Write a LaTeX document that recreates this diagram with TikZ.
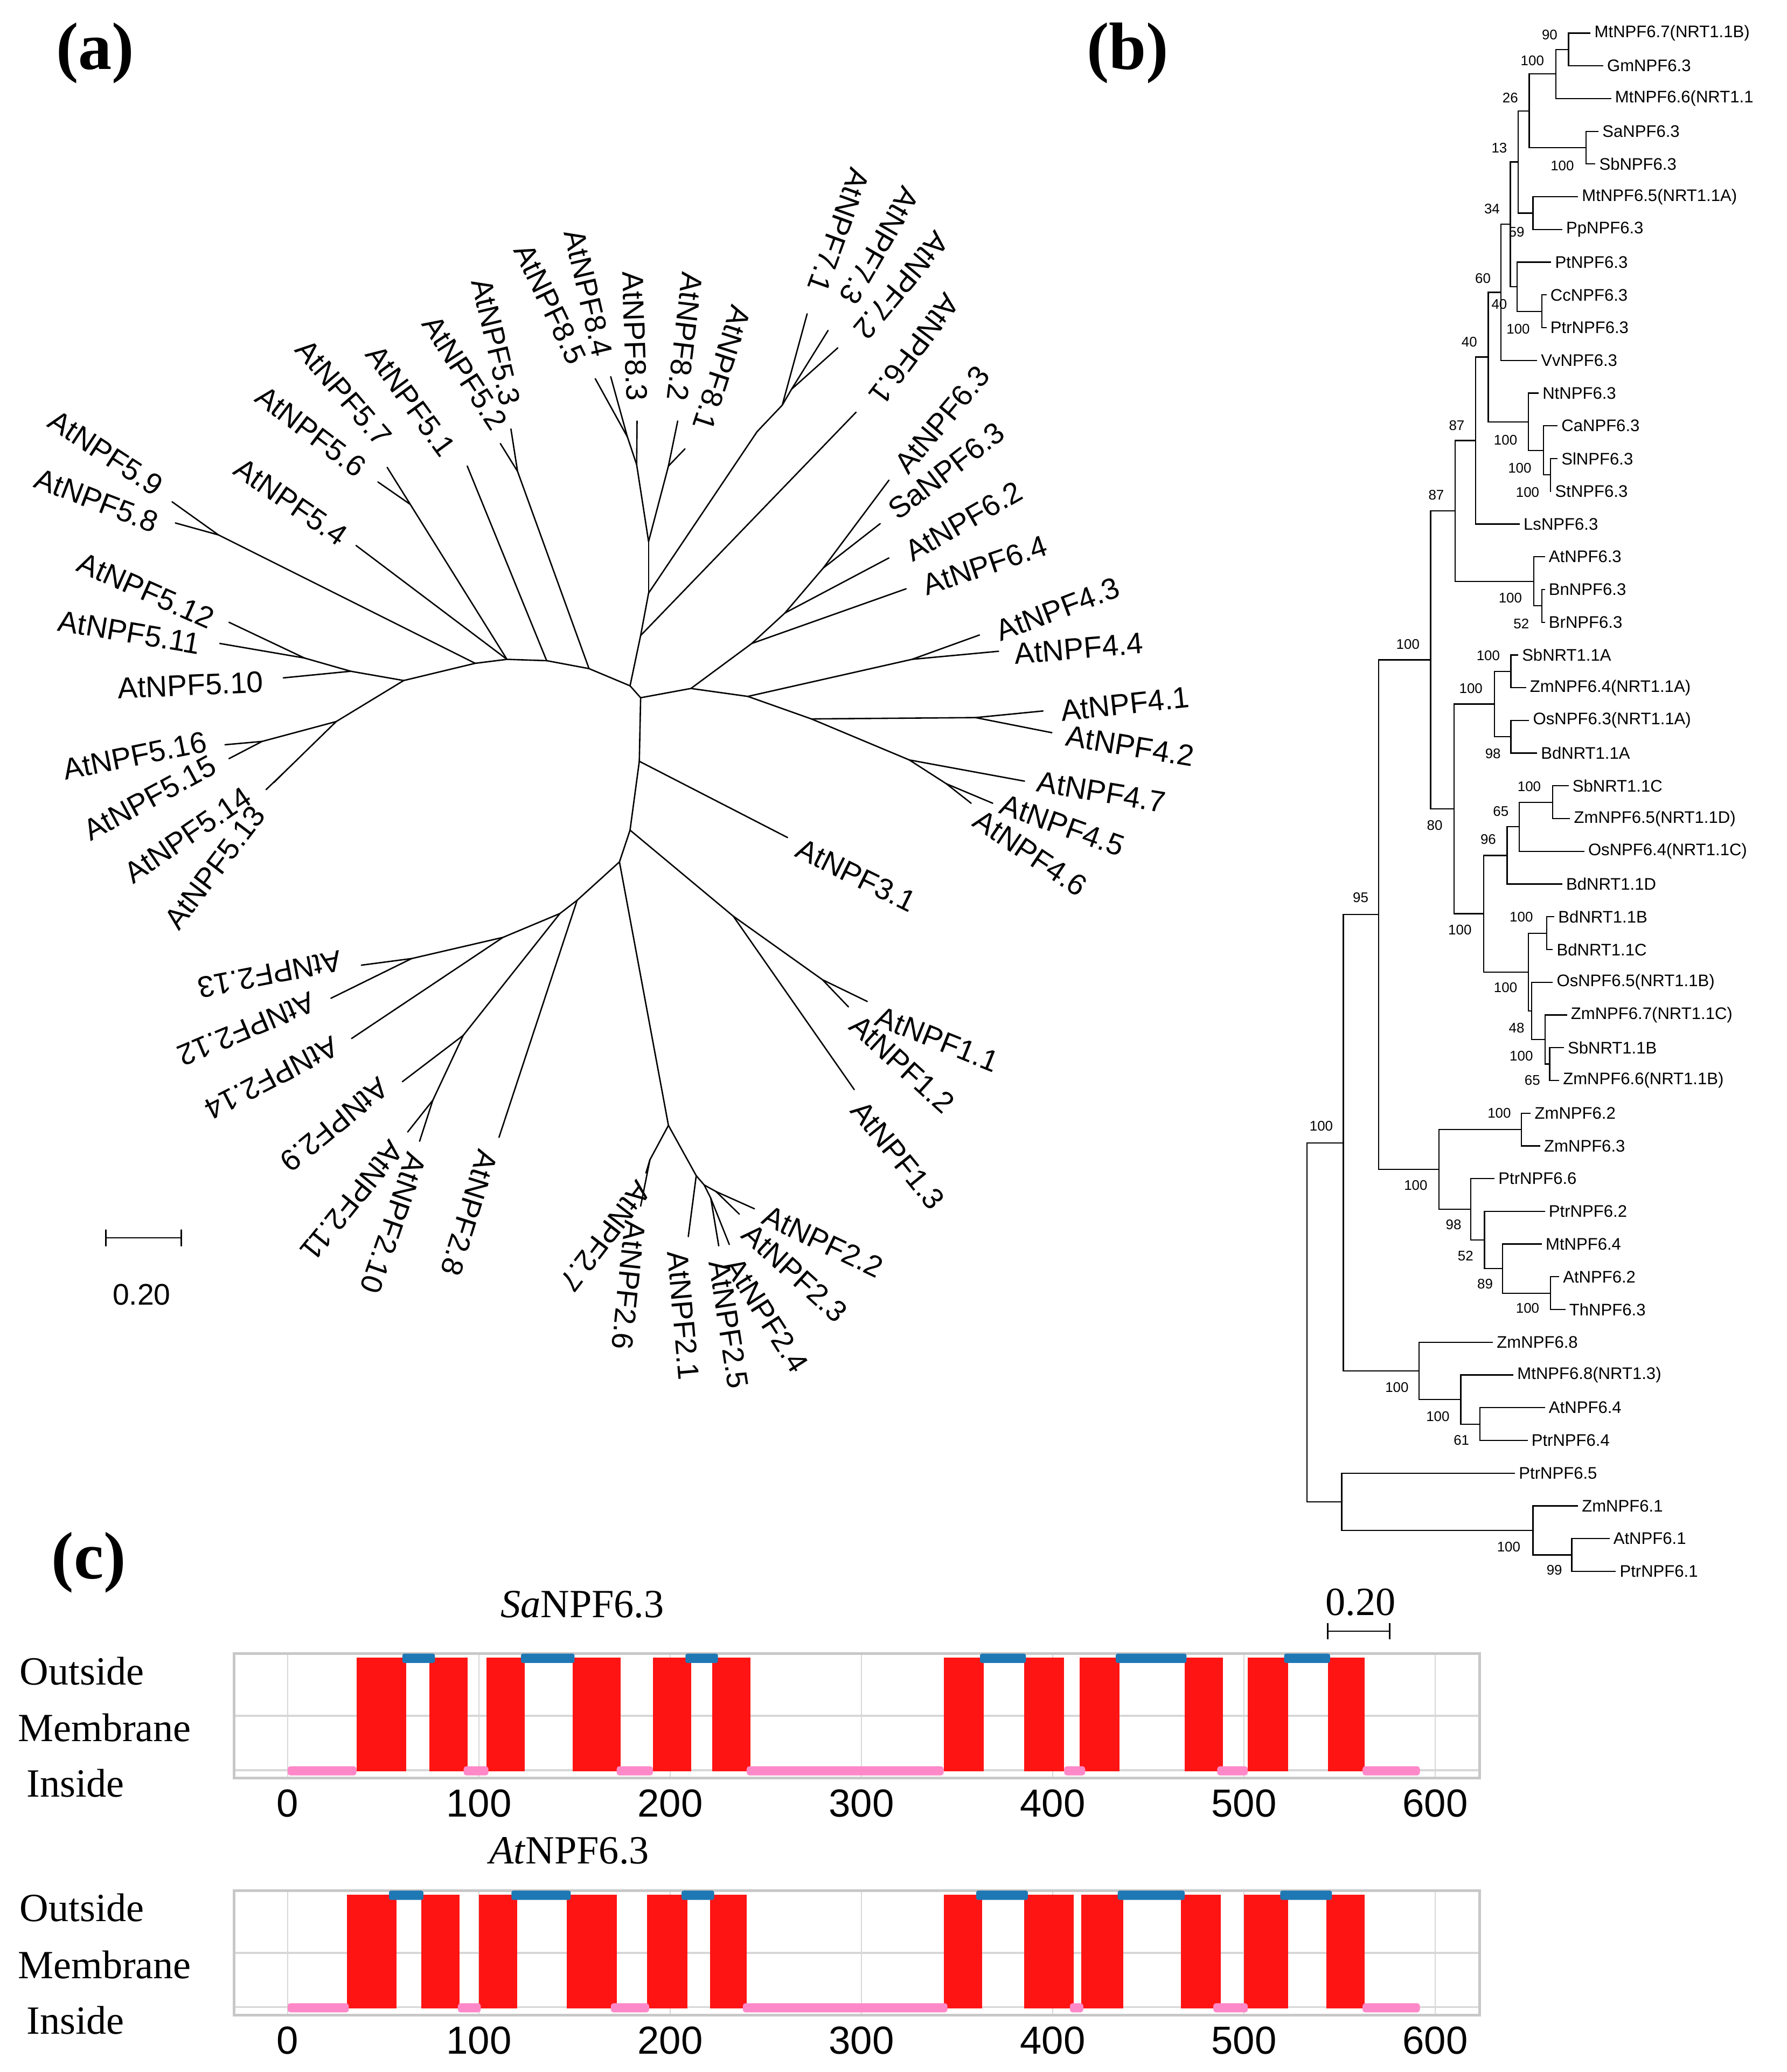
\documentclass[tikz,border=0pt]{standalone}
\usepackage{fontspec}
\setmainfont{Liberation Serif}
\newfontfamily\lsans{Liberation Sans}
\usetikzlibrary{calc}
\definecolor{tmred}{RGB}{255,20,20}
\definecolor{tmblue}{RGB}{30,120,180}
\definecolor{tmpink}{RGB}{255,136,200}
\definecolor{gridg}{RGB}{215,215,215}
\definecolor{frameg}{RGB}{200,200,200}
\def\bx#1{976.8+0.238*#1}
\def\zy#1{0.3894*#1}
\def\zz#1{590.2+0.3894*#1}
\def\cx#1{217.3+1.445*#1}
\newcommand\lv[3]{\coordinate (b#1) at ({\bx{#2}},{25+24.72*#1}); \node[bl] (bt#1) at (b#1) {#3};}
\newcommand\tn[4]{\path let \p1=(#3),\p2=(#4) in ($({\bx{#2}},0)+(0pt,{0.5*(\y1+\y2)})$) coordinate (#1); \draw[bt] (#3) -| (#1); \draw[bt] (#4) -| (#1);}
\begin{document}
\begin{tikzpicture}[x=0.5mm,y=-0.5mm,
  tl/.style={line width=1.5pt,line cap=round},
  la/.style={font=\lsans\fontsize{32}{32}\selectfont,inner sep=0pt},
  bt/.style={line width=1.3pt},
  bl/.style={font=\lsans\fontsize{18}{18}\selectfont,anchor=west,inner sep=0pt,xshift=4pt},
  bs/.style={font=\lsans\fontsize{15}{15}\selectfont,inner sep=0pt},
  pl/.style={font=\bfseries\fontsize{72}{72}\selectfont,inner sep=0pt},
  sl/.style={font=\fontsize{43}{43}\selectfont,inner sep=0pt},
  tk/.style={font=\lsans\fontsize{42}{42}\selectfont,inner sep=0pt},
  grid/.style={draw=gridg,line width=1.2pt},
  frame/.style={draw=frameg,line width=3pt}]
\useasboundingbox (0,0) rectangle (1350,1565);
% ---------- panel labels
\node[pl] (pa) at (72,40) {(a)};
\node[pl] (pb) at (852,40) {(b)};
\node[pl] (pc) at (67,1180) {(c)};
% ---------- (a) coordinates
\foreach \n/\p in {T/{476,518},R/{484,527},R2/{483,575},R3/{476,627},B/{468,651},
 a1/{445,505},a2/{413,499},a3/{383,498},a4/{359,501},a5/{305,514},a6/{265,507},n5c/{254,545},
 n59/{165,404},p59/{130,379},p58/{132.5,395},p54/{269,412},n57/{310,381},p57/{292.5,353},p56/{285.5,364},
 p51/{353,352},n53/{391,356},p53/{386,324},p52/{378,335},p510/{214,512},n511/{230,497},p511/{166,486},p512/{173,470},
 n5d/{198,560},p516/{170,562.5},p515/{173,573},n5e/{214,584},p514/{201,596.4},p513/{207,591},
 t1/{484,480},t2/{490,448},t3/{490,409},p61/{646.7,311.4},m7/{572,326},m7a/{591,306},p71/{609.8,237},m7b/{598,294},p73/{625.6,249.6},p72/{633,262.7},
 m8a/{481,351},p83/{481.3,318},m8b/{474,330},p84/{461.4,284.5},p85/{449.7,286},m8c/{505,352},p82/{512,318},p81/{517.5,339},
 r1/{522,520},m6a/{568,486},p64/{684.6,444.7},m6b/{593,463},p62/{671.6,421.4},m6c/{622,429},p63/{671.6,362.7},pSa/{665,395.5},
 m4/{565,526},m4a/{689,498},p43/{740,479.6},p44/{754.4,491.9},m4b/{613,543},m4c/{737,542},p41/{788,537},p42/{794.7,553.4},
 m4d/{687,574},p47/{774,590},m4e/{715,592},p45/{750,606.7},p46/{733.7,606.7},p31/{595,632.6},
 m1/{554,692},p13/{645.4,823},m1b/{621.4,740},p11/{655.2,756.4},p12/{641,760.5},
 nL0/{436,680},p28/{377,859},nLa/{423,690},nL1/{380,708},nL2/{311,724},p213/{273,729},p212/{250,754},p214/{265.6,784.4},
 nL3/{350,782},p29/{304,817},nL4/{327,831},p211/{308,855},p210/{317,862},
 m2/{505,850},m2a/{491,876},p27/{488,886},p26/{484,911},m2b/{526,888},p21/{520,934},m2c/{532,895},m2d/{537,905},
 p25/{543,941},p24/{551,940},m2e/{541,900},p23/{558.5,917},p22/{570,913}}
 {\coordinate (\n) at (\p);}
\foreach \u/\v in {T/R,R/R2,R2/R3,R3/B,T/a1,a1/a2,a2/a3,a3/a4,a4/a5,a5/a6,a5/n5c,a4/n59,n59/p59,n59/p58,
 a3/p54,a3/n57,n57/p57,n57/p56,a2/p51,a1/n53,n53/p53,n53/p52,a6/p510,a6/n511,n511/p511,n511/p512,
 n5c/n5d,n5d/p516,n5d/p515,n5c/n5e,n5e/p514,n5e/p513,
 T/t1,t1/t2,t2/t3,t1/p61,t2/m7,m7/m7a,m7a/p71,m7a/m7b,m7b/p73,m7b/p72,t3/m8a,m8a/p83,m8a/m8b,m8b/p84,m8b/p85,t3/m8c,m8c/p82,m8c/p81,
 R/r1,r1/m6a,m6a/p64,m6a/m6b,m6b/p62,m6b/m6c,m6c/p63,m6c/pSa,r1/m4,m4/m4a,m4a/p43,m4a/p44,m4/m4b,m4b/m4c,m4c/p41,m4c/p42,
 m4b/m4d,m4d/p47,m4d/m4e,m4e/p45,m4e/p46,R2/p31,R3/m1,m1/p13,m1/m1b,m1b/p11,m1b/p12,
 B/nL0,nL0/p28,nL0/nLa,nLa/nL1,nL1/nL2,nL2/p213,nL2/p212,nL1/p214,nLa/nL3,nL3/p29,nL3/nL4,nL4/p211,nL4/p210,
 B/m2,m2/m2a,m2a/p27,m2a/p26,m2/m2b,m2b/p21,m2b/m2c,m2c/m2d,m2d/p25,m2d/p24,m2c/m2e,m2e/p23,m2e/p22}
 {\draw[tl] (\u) -- (\v);}
% labels, east anchored
\foreach \n/\p/\r/\t in {l59/{120.8,368.8}/-33.2/AtNPF5.9, l58/{118.5,395.4}/-21/AtNPF5.8, l54/{259.8,407}/-34.7/AtNPF5.4,
 l56/{273.8,355.5}/-37.3/AtNPF5.6, l57/{291.3,333.9}/-49.4/AtNPF5.7, l51/{339.2,342.2}/-53.8/AtNPF5.1,
 l52/{377.8,322.3}/-56.9/AtNPF5.2, l53/{386,305.7}/-76.6/AtNPF5.3, l512/{160.5,468.5}/-24/AtNPF5.12,
 l511/{151.2,486.8}/-9.6/AtNPF5.11, l510/{199,515}/2.6/AtNPF5.10, l516/{155.8,559.8}/11.4/AtNPF5.16,
 l515/{161.7,576.5}/28.4/AtNPF5.15, l514/{187.4,599.7}/34.3/AtNPF5.14, l513/{195.6,611.3}/52.8/AtNPF5.13,
 l85/{436.9,273.6}/-64.4/AtNPF8.5, l84/{455.6,269}/-76.9/AtNPF8.4, l83/{481.3,302.7}/-88/AtNPF8.3,
 l82/{511.6,302.7}/-96.8/AtNPF8.2, l81/{530.3,324.5}/-108/AtNPF8.1, l71/{616.8,219.8}/-110/AtNPF7.1,
 l73/{640,228}/-120/AtNPF7.3, l72/{649.5,253}/-130/AtNPF7.2, l61/{661.2,302.7}/-127/AtNPF6.1}
 {\node[la,anchor=east,rotate=\r] (\n) at (\p) {\t};}
% labels, west anchored
\foreach \n/\p/\r/\t in {l63/{680.3,354.5}/50/AtNPF6.3, lSa/{673.7,387.3}/37.7/SaNPF6.3, l62/{685.7,418.1}/30/AtNPF6.2,
 l64/{697.7,442.7}/18.7/AtNPF6.4, l43/{753.3,477.5}/20.8/AtNPF4.3, l44/{766.4,494}/4.8/AtNPF4.4,
 l41/{801.3,537}/6.1/AtNPF4.1, l42/{805.6,555.5}/-9.4/AtNPF4.2, l47/{783.8,590.3}/-9.4/AtNPF4.7,
 l45/{756.6,606.7}/-20/AtNPF4.5, l46/{738,617}/-34/AtNPF4.6, l31/{602.9,639.5}/-26.2/AtNPF3.1,
 l11/{662.8,766.7}/-21.9/AtNPF1.1, l12/{645.4,770.8}/-42.4/AtNPF1.2, l13/{647.6,834.3}/-51/AtNPF1.3,
 l22/{577.7,916.7}/-25.5/AtNPF2.2, l23/{564.3,928.5}/-42.3/AtNPF2.3, l24/{552.8,952}/-57.4/AtNPF2.4,
 l25/{543.2,952}/-81.2/AtNPF2.5, l21/{512,945}/-85/AtNPF2.1, l26/{480,922}/-96/AtNPF2.6,
 l27/{487,895}/-127.5/AtNPF2.7, l28/{369,869.4}/-107.3/AtNPF2.8, l210/{315.4,871.8}/-109.3/AtNPF2.10,
 l211/{300,864.7}/-129/AtNPF2.11, l29/{290.5,818.6}/-140.7/AtNPF2.9, l214/{254.1,789.1}/-152.8/AtNPF2.14,
 l212/{236.9,756}/-157.2/AtNPF2.12, l213/{257.9,725.3}/-169/AtNPF2.13}
 {\node[la,anchor=west,rotate=\r] (\n) at (\p) {\t};}
% scale bar (a)
\coordinate (sa1) at (80,935); \coordinate (sa2) at (137,935);
\draw[tl] (sa1) -- (sa2); \draw[tl] (80,929) -- (80,941); \draw[tl] (137,929) -- (137,941);
\node[la] (sal) at (107,978) {0.20};
% ---------- (b)
\lv{0}{945}{MtNPF6.7(NRT1.1B)} \lv{1}{985}{GmNPF6.3} \lv{2}{1010}{MtNPF6.6(NRT1.1}
\lv{3}{970}{SaNPF6.3} \lv{4}{960}{SbNPF6.3} \lv{5}{905}{MtNPF6.5(NRT1.1A)} \lv{6}{855}{PpNPF6.3}
\lv{7}{820}{PtNPF6.3} \lv{8}{805}{CcNPF6.3} \lv{9}{805}{PtrNPF6.3} \lv{10}{775}{VvNPF6.3}
\lv{11}{780}{NtNPF6.3} \lv{12}{840}{CaNPF6.3} \lv{13}{840}{SlNPF6.3} \lv{14}{820}{StNPF6.3}
\lv{15}{720}{LsNPF6.3} \lv{16}{800}{AtNPF6.3} \lv{17}{800}{BnNPF6.3} \lv{18}{800}{BrNPF6.3}
\lv{19}{715}{SbNRT1.1A} \lv{20}{740}{ZmNPF6.4(NRT1.1A)} \lv{21}{750}{OsNPF6.3(NRT1.1A)} \lv{22}{775}{BdNRT1.1A}
\lv{23}{875}{SbNRT1.1C} \lv{24}{880}{ZmNPF6.5(NRT1.1D)} \lv{25}{925}{OsNPF6.4(NRT1.1C)} \lv{26}{855}{BdNRT1.1D}
\lv{27}{830}{BdNRT1.1B} \lv{28}{825}{BdNRT1.1C} \lv{29}{825}{OsNPF6.5(NRT1.1B)} \lv{30}{870}{ZmNPF6.7(NRT1.1C)}
\lv{31}{860}{SbNRT1.1B} \lv{32}{845}{ZmNPF6.6(NRT1.1B)} \lv{33}{755}{ZmNPF6.2} \lv{34}{785}{ZmNPF6.3}
\lv{35}{640}{PtrNPF6.6} \lv{36}{800}{PtrNPF6.2} \lv{37}{790}{MtNPF6.4} \lv{38}{845}{AtNPF6.2}
\lv{39}{865}{ThNPF6.3} \lv{40}{635}{ZmNPF6.8} \lv{41}{700}{MtNPF6.8(NRT1.3)} \lv{42}{800}{AtNPF6.4}
\lv{43}{745}{PtrNPF6.4} \lv{44}{705}{PtrNPF6.5} \lv{45}{905}{ZmNPF6.1} \lv{46}{1005}{AtNPF6.1} \lv{47}{1025}{PtrNPF6.1}
\tn{n1}{875}{b0}{b1} \tn{n2}{835}{n1}{b2} \tn{n3}{930}{b3}{b4} \tn{n4}{750}{n2}{n3}
\tn{n5}{762}{b5}{b6} \tn{n6}{715}{n4}{n5} \tn{n7}{790}{b8}{b9} \tn{n8}{712}{b7}{n7}
\tn{n9}{690}{n6}{n8} \tn{n10}{660}{n9}{b10} \tn{n11}{818}{b13}{b14} \tn{n12}{795}{b12}{n11}
\tn{n13}{748}{b11}{n12} \tn{n14}{620}{n10}{n13} \tn{n15}{580}{n14}{b15} \tn{n16}{790}{b17}{b18}
\tn{n17}{765}{b16}{n16} \tn{n18}{515}{n15}{n17} \tn{n19}{692}{b19}{b20} \tn{n20}{692}{b21}{b22}
\tn{n21}{640}{n19}{n20} \tn{n22}{825}{b23}{b24} \tn{n23}{718}{n22}{b25} \tn{n24}{680}{n23}{b26}
\tn{n25}{805}{b27}{b28} \tn{n26}{815}{b31}{b32} \tn{n27}{800}{b30}{n26} \tn{n28}{758}{b29}{n27}
\tn{n29}{748}{n25}{n28} \tn{n30}{605}{n24}{n29} \tn{n31}{512}{n21}{n30} \tn{n32}{437}{n18}{n31}
\tn{n33}{725}{b33}{b34} \tn{n34}{818}{b38}{b39} \tn{n35}{665}{b37}{n34} \tn{n36}{608}{b36}{n35}
\tn{n37}{565}{b35}{n36} \tn{n38}{463}{n33}{n37} \tn{n39}{272}{n32}{n38} \tn{n40}{593}{b42}{b43}
\tn{n41}{533}{b41}{n40} \tn{n42}{400}{b40}{n41} \tn{n43}{160}{n39}{n42} \tn{n44}{885}{b46}{b47}
\tn{n45}{762}{b45}{n44} \tn{n46}{155}{b44}{n45} \tn{n47}{45}{n43}{n46}
% bootstrap values
\foreach \t/\px/\py [count=\i] in {90/815/68,100/760/118,26/690/190,13/655/287,100/855/322,34/632/405,59/710/450,
 60/603/540,40/655/590,100/715/638,40/560/663,87/520/825,100/675/853,100/720/908,100/745/955,87/455/960,
 100/690/1160,52/725/1210,100/365/1250,100/620/1272,100/565/1335,98/635/1462}
 {\node[bs] (bsa\i) at ({\bx{\px}},{\zy{\py}}) {\t};}
\foreach \t/\px/\py [count=\i] in {100/750/10,65/660/58,80/450/85,96/620/112,95/215/225,100/725/263,100/530/288,100/675/400,
 48/710/478,100/725/533,65/760/580,100/90/668,100/655/643,100/390/783,98/510/860,52/548/920,89/610/975,
 100/745/1022,100/330/1175,100/460/1232,61/535/1278,100/685/1485,99/830/1530}
 {\node[bs] (bsb\i) at ({\bx{\px}},{\zz{\py}}) {\t};}
% ---------- (c)
\node[sl] (ct1) at (440,1212) {\textit{Sa}NPF6.3};
\node[sl] (ct2) at (430,1398) {\textit{At}NPF6.3};
\node[sl] (sc) at (1028,1210) {0.20};
\coordinate (sc1) at (1003,1232); \coordinate (sc2) at (1050,1232);
\draw[line width=1.5pt] (sc1) -- (sc2); \draw[line width=1.5pt] (1003,1226) -- (1003,1238); \draw[line width=1.5pt] (1050,1226) -- (1050,1238);
\foreach \yo/\t in {0/a,179/b}{
 \begin{scope}[shift={(0,\yo)}]
 \foreach \a in {0,100,...,600} \draw[grid] ({\cx{\a}},1249) -- ({\cx{\a}},1343);
 \draw[grid,line width=2pt] (177,1296) -- (1118,1296);
 \draw[grid,line width=2pt] (177,1337) -- (1118,1337);
 \draw[frame] (177,1249) rectangle (1118,1343);
 \node[sl] (o\t) at (62,1262) {Outside};
 \node[sl] (m\t) at (79,1305) {Membrane};
 \node[sl] (i\t) at (57,1347) {Inside};
 \foreach \a in {0,100,...,600} \node[tk] (k\t\a) at ({\cx{\a}},1362) {\a};
 \end{scope}}
% top chart data
\foreach \s/\e in {36/62,74/94,104/124,149/174,191/211,222/242,343/364,385/406,414/435,469/489,502/523,544/563}
 \fill[tmred] ({\cx{\s}},1252) rectangle ({\cx{\e}},1338);
\foreach \s/\e in {60/77,122/150,208/225,362/386,433/470,521/545}
 \fill[tmblue,rounded corners=2pt] ({\cx{\s}},1249) rectangle ({\cx{\e}},1256);
\foreach \s/\e in {0/36,92/105,172/191,240/343,406/417,486/502,562/592}
 \fill[tmpink,rounded corners=3pt] ({\cx{\s}},1334) rectangle ({\cx{\e}},1341);
% bottom chart data
\foreach \s/\e in {31/57,70/90,100/120,146/172,188/209,221/240,343/363,385/411,415/437,467/488,500/523,543/563}
 \fill[tmred] ({\cx{\s}},1431) rectangle ({\cx{\e}},1517);
\foreach \s/\e in {53/71,117/148,206/223,360/387,434/469,519/546}
 \fill[tmblue,rounded corners=2pt] ({\cx{\s}},1428) rectangle ({\cx{\e}},1435);
\foreach \s/\e in {0/32,89/101,169/189,238/345,409/416,484/502,562/592}
 \fill[tmpink,rounded corners=3pt] ({\cx{\s}},1513) rectangle ({\cx{\e}},1520);
\end{tikzpicture}
\end{document}
